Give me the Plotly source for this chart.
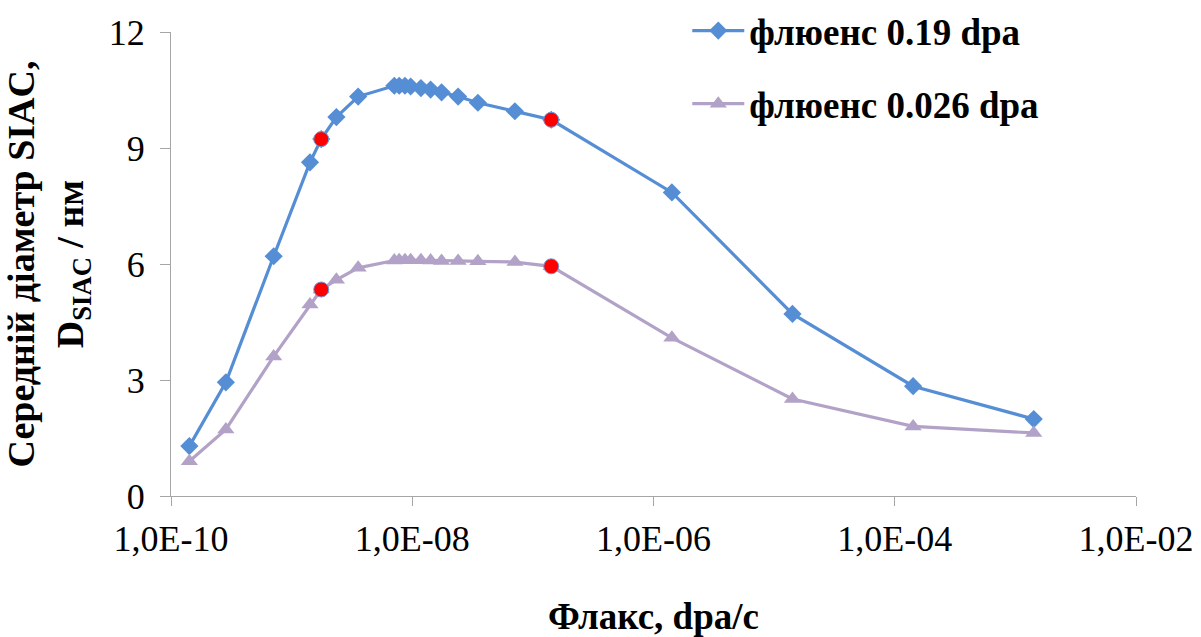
import plotly.graph_objects as go

flux = [1.42e-10, 2.85e-10, 7.1e-10, 1.42e-9, 1.76e-9, 2.35e-9, 3.56e-9,
        7.1e-9, 7.8e-9, 8.7e-9, 9.7e-9, 1.18e-8, 1.42e-8, 1.75e-8, 2.4e-8,
        3.5e-8, 7.1e-8, 1.42e-7, 1.42e-6, 1.42e-5, 1.42e-4, 1.42e-3]
d_019 = [1.29, 2.94, 6.20, 8.63, 9.23, 9.80, 10.33, 10.61, 10.61, 10.61, 10.59,
         10.55, 10.51, 10.44, 10.33, 10.17, 9.95, 9.73, 7.85, 4.71, 2.84, 1.99]
d_0026 = [0.90, 1.72, 3.61, 4.95, 5.34, 5.59, 5.90, 6.09, 6.10, 6.10, 6.10,
          6.10, 6.09, 6.08, 6.08, 6.07, 6.05, 5.94, 4.09, 2.51, 1.80, 1.63]
highlight_idx = [4, 17]

name_019 = "флюенс 0.19 dpa"
name_0026 = "флюенс 0.026 dpa"
x_ticks = [1e-10, 1e-8, 1e-6, 1e-4, 1e-2]
x_ticklabels = ["1,0E-10", "1,0E-08", "1,0E-06", "1,0E-04", "1,0E-02"]
y_ticks = [0, 3, 6, 9, 12]

blue = "#558ED5"
purple = "#B3A2C7"
font_family = "Liberation Serif, Times New Roman, serif"

W, H = 1201, 637
ML, MR, MT, MB = 171, 65, 0, 141
PLOT_TOP_PX = 32

fig = go.Figure()
fig.add_trace(go.Scatter(
    x=flux, y=d_019, mode="lines+markers", name=name_019, legendgroup="a",
    line=dict(color=blue, width=3.2),
    marker=dict(symbol="diamond", size=14, color=blue)))
fig.add_trace(go.Scatter(
    x=flux, y=d_0026, mode="lines+markers", name=name_0026, legendgroup="b",
    line=dict(color=purple, width=3.2),
    marker=dict(symbol="triangle-up", size=15, color=purple)))
hx = [flux[i] for i in highlight_idx]
for series in (d_019, d_0026):
    fig.add_trace(go.Scatter(
        x=hx, y=[series[i] for i in highlight_idx], mode="markers",
        showlegend=False,
        marker=dict(symbol="circle", size=15, color="#FF0000",
                    line=dict(color="#6F9BD6", width=1))))

plot_h = H - MT - MB
fig.update_layout(
    width=W, height=H,
    margin=dict(l=ML, r=MR, t=MT, b=MB),
    paper_bgcolor="white", plot_bgcolor="white",
    font=dict(family=font_family, size=36, color="black"),
    legend=dict(x=0.535, y=1.0, xanchor="left", yanchor="top",
                traceorder="grouped", tracegroupgap=22, itemwidth=52,
                font=dict(size=37, weight="bold"),
                bgcolor="rgba(0,0,0,0)"),
    xaxis=dict(type="log", range=[-10, -2], tickvals=x_ticks,
               ticktext=x_ticklabels, showgrid=False, showline=True,
               linecolor="#A6A6A6", linewidth=1.3, ticks="outside",
               ticklen=9, tickcolor="#A6A6A6", zeroline=False,
               automargin=False, tickfont=dict(size=36),
               ticklabelstandoff=2,
               title=dict(text="<b>Флакс, dpa/c</b>", standoff=47,
                          font=dict(size=37))),
    yaxis=dict(range=[0, 12], tickvals=y_ticks, showgrid=False,
               domain=[0, (plot_h - PLOT_TOP_PX) / plot_h],
               showline=True, linecolor="#A6A6A6", linewidth=1.3,
               ticks="outside", ticklen=10, tickcolor="#A6A6A6",
               zeroline=False, automargin=False, tickfont=dict(size=36),
               ticklabelstandoff=8,
               title=dict(text="<b>Середній діаметр SIAC,<br>D<sub>SIAC</sub> / нм</b>",
                          standoff=18, font=dict(size=38))),
)

fig.write_html("out.html", config={"displayModeBar": False},
               post_script="document.body.style.margin='0';")
